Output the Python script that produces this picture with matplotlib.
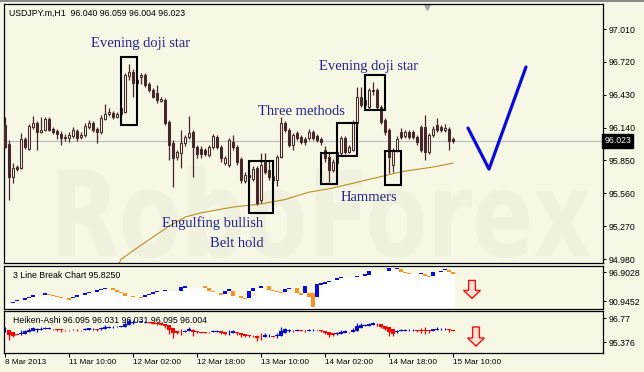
import numpy as np
import matplotlib
matplotlib.use('Agg')
import matplotlib.pyplot as plt
from matplotlib.patches import Rectangle, Polygon, PathPatch
from matplotlib.textpath import TextPath
from matplotlib.font_manager import FontProperties
from matplotlib.transforms import Affine2D, blended_transform_factory

plt.rcParams['font.family'] = ['Liberation Sans', 'DejaVu Sans']

# USDJPY.m H1, one candle per hour from 8 Mar 2013 18:00 to 15 Mar 10:00
opens = [96.163, 95.995, 95.704, 95.792, 95.783, 96.039, 95.951, 96.145, 96.180, 96.101,
         96.119, 96.216, 96.127, 96.110, 96.083, 96.057, 96.048, 96.066, 96.110, 96.057,
         96.074, 96.145, 96.180, 96.127, 96.101, 96.216, 96.260, 96.269, 96.233, 96.313,
         96.277, 96.595, 96.631, 96.533, 96.586, 96.604, 96.525, 96.472, 96.445, 96.375,
         96.383, 96.189, 96.004, 95.880, 95.916, 96.004, 96.057, 96.101, 95.969, 95.951,
         95.942, 95.898, 95.969, 96.057, 95.969, 95.827, 95.810, 96.013, 95.969, 95.863,
         95.669, 95.722, 95.686, 95.783, 95.501, 95.836, 95.766, 95.677, 95.677, 95.880,
         96.180, 96.119, 95.986, 96.092, 96.057, 96.039, 96.048, 96.101, 96.066, 96.039,
         95.942, 95.880, 95.766, 95.827, 95.916, 96.048, 95.925, 95.942, 96.180, 96.410,
         96.339, 96.322, 96.472, 96.472, 96.322, 96.207, 96.119, 95.810, 95.942, 96.101,
         96.066, 96.101, 96.101, 96.057, 96.145, 96.145, 95.925, 96.074, 96.163, 96.145,
         96.119, 96.127, 96.040]
highs = [96.233, 96.030, 95.827, 95.810, 96.092, 96.057, 96.172, 96.242, 96.198, 96.233,
         96.233, 96.233, 96.145, 96.127, 96.110, 96.083, 96.101, 96.145, 96.127, 96.101,
         96.180, 96.207, 96.198, 96.145, 96.251, 96.348, 96.313, 96.286, 96.277, 96.330,
         96.622, 96.701, 96.657, 96.578, 96.622, 96.622, 96.542, 96.489, 96.516, 96.410,
         96.401, 96.207, 96.030, 95.942, 96.119, 96.074, 96.242, 96.119, 95.986, 95.977,
         95.960, 95.986, 96.083, 96.074, 95.986, 95.889, 96.048, 96.074, 95.986, 95.880,
         95.748, 95.766, 95.801, 95.801, 95.916, 95.916, 95.854, 95.730, 95.898, 96.233,
         96.198, 96.136, 96.092, 96.110, 96.074, 96.057, 96.127, 96.119, 96.083, 96.057,
         95.977, 95.916, 95.863, 95.942, 96.066, 96.066, 95.986, 96.207, 96.498, 96.498,
         96.428, 96.489, 96.542, 96.489, 96.339, 96.225, 96.136, 95.960, 96.066, 96.136,
         96.119, 96.119, 96.119, 96.074, 96.163, 96.251, 96.092, 96.154, 96.225, 96.163,
         96.172, 96.145, 96.059]
lows = [95.960, 95.501, 95.651, 95.757, 95.775, 95.951, 95.942, 96.127, 95.942, 96.092,
        96.110, 96.110, 96.083, 96.039, 95.986, 96.022, 96.013, 96.048, 96.022, 96.039,
        96.057, 96.127, 96.101, 96.004, 96.083, 96.207, 96.242, 96.216, 96.225, 96.242,
        96.269, 96.560, 96.410, 96.516, 96.525, 96.498, 96.454, 96.401, 96.357, 96.366,
        96.163, 95.854, 95.616, 95.854, 95.783, 95.977, 96.039, 95.704, 95.872, 95.872,
        95.889, 95.880, 95.951, 95.951, 95.836, 95.810, 95.792, 95.942, 95.810, 95.651,
        95.651, 95.677, 95.669, 95.456, 95.474, 95.730, 95.677, 95.660, 95.625, 95.872,
        96.101, 95.969, 95.942, 96.030, 95.995, 95.986, 96.030, 96.030, 96.013, 95.986,
        95.836, 95.660, 95.748, 95.810, 95.898, 95.907, 95.916, 95.933, 96.172, 96.322,
        96.322, 96.304, 96.428, 96.304, 96.172, 96.074, 95.739, 95.748, 95.925, 96.039,
        96.048, 96.039, 96.039, 95.986, 95.925, 95.854, 95.907, 96.057, 96.101, 96.101,
        96.101, 95.942, 96.004]
closes = [95.969, 95.704, 95.783, 95.775, 96.039, 95.969, 96.154, 96.180, 96.101, 96.119,
          96.216, 96.119, 96.101, 96.083, 96.048, 96.048, 96.074, 96.119, 96.048, 96.074,
          96.154, 96.180, 96.119, 96.101, 96.225, 96.260, 96.277, 96.233, 96.260, 96.260,
          96.604, 96.631, 96.533, 96.560, 96.604, 96.516, 96.472, 96.410, 96.383, 96.392,
          96.180, 95.986, 95.872, 95.925, 96.004, 96.057, 96.092, 95.969, 95.907, 95.907,
          95.907, 95.969, 96.066, 95.969, 95.872, 95.872, 96.030, 95.969, 95.836, 95.677,
          95.722, 95.704, 95.775, 95.474, 95.810, 95.748, 95.704, 95.713, 95.880, 96.180,
          96.119, 95.986, 96.074, 96.048, 96.013, 96.013, 96.101, 96.048, 96.030, 96.013,
          95.872, 95.766, 95.836, 95.925, 96.048, 95.925, 95.969, 96.180, 96.410, 96.339,
          96.383, 96.472, 96.463, 96.322, 96.189, 96.101, 95.880, 95.942, 96.039, 96.057,
          96.101, 96.057, 96.057, 96.013, 95.942, 95.925, 96.074, 96.127, 96.119, 96.119,
          96.136, 96.022, 96.023]

# moving average (read at some bars)
ma_bars = [28, 29, 33, 37, 41, 45, 49, 53, 57, 64, 70, 76, 82, 90, 99, 107, 112]
ma_vals = [94.90, 94.977, 95.077, 95.174, 95.27, 95.35, 95.388, 95.413, 95.439,
           95.466, 95.505, 95.57, 95.607, 95.674, 95.75, 95.792, 95.827]

# forecast drawn in blue
v_bars = [115.75, 121, 130.25]
v_prices = [96.136, 95.774, 96.675]

# 3 line break bricks
lb_bars = [2, 3, 5, 6, 7, 10, 11, 12, 13, 14, 16, 17, 18, 20, 21, 23, 24, 25, 27, 28,
           29, 30, 32, 34, 35, 36, 37, 38, 40, 44, 45, 50, 51, 52, 54, 55, 56, 57, 59, 60,
           61, 62, 64, 66, 67, 68, 69, 70, 71, 73, 74, 75, 76, 77, 78, 79, 80, 81, 83, 84,
           87, 88, 90, 91, 96, 98, 99, 100, 101, 104, 105, 106, 107, 109, 110, 111, 112]
lb_hi = [90.876, 91.219, 91.561, 91.904, 92.246, 92.589, 92.383, 92.178, 92.041, 91.835,
         91.561, 91.904, 92.246, 92.589, 92.931, 93.273, 93.479, 93.616, 93.616, 93.273,
         92.931, 92.589, 92.109, 91.904, 92.314, 92.451, 92.794, 93.137, 93.342, 93.821,
         94.163, 94.163, 93.616, 93.137, 92.657, 93.137, 93.479, 93.137, 91.972, 91.630,
         93.000, 93.616, 94.026, 94.026, 93.273, 93.000, 92.794, 93.479, 93.684, 93.616,
         92.657, 94.163, 92.657, 92.657, 94.506, 94.643, 94.848, 95.190, 95.670, 95.876,
         96.012, 96.218, 96.560, 97.108, 97.724, 97.793, 97.587, 97.040, 96.697, 96.697,
         96.560, 96.218, 96.903, 97.245, 97.587, 97.382, 97.040]
lb_lo = [90.671, 90.945, 91.287, 91.630, 91.904, 92.246, 92.178, 92.041, 91.835, 91.630,
         91.287, 91.561, 91.904, 92.246, 92.589, 92.931, 93.205, 93.410, 93.273, 92.931,
         92.589, 92.109, 91.767, 91.561, 91.767, 92.246, 92.451, 92.794, 93.000, 93.137,
         93.616, 93.616, 93.137, 92.794, 92.314, 92.451, 93.137, 92.109, 91.630, 91.424,
         91.630, 93.000, 93.684, 93.273, 93.000, 92.794, 92.589, 92.794, 93.479, 92.657,
         92.246, 92.589, 91.767, 89.712, 91.767, 94.369, 94.574, 94.848, 95.328, 95.670,
         95.876, 96.012, 96.218, 96.423, 97.245, 97.587, 97.040, 96.697, 96.560, 96.492,
         96.218, 96.012, 96.218, 97.040, 97.382, 97.040, 96.560]
lb_up = [1, 1, 1, 1, 1, 1, 0, 0, 0, 0, 0, 1, 1, 1, 1, 1, 1, 1, 0, 0,
         0, 0, 0, 0, 1, 1, 1, 1, 1, 1, 1, 0, 0, 0, 0, 1, 1, 0, 0, 0,
         1, 1, 1, 0, 0, 0, 0, 1, 1, 0, 0, 1, 0, 0, 1, 1, 1, 1, 1, 1,
         1, 1, 1, 1, 1, 1, 0, 0, 0, 1, 0, 0, 1, 1, 1, 0, 0]

tick_bars = [0, 16, 32, 48, 64, 80, 96, 112]
tick_labels = ['8 Mar 2013', '11 Mar 10:00', '12 Mar 02:00', '12 Mar 18:00',
               '13 Mar 10:00', '14 Mar 02:00', '14 Mar 18:00', '15 Mar 10:00']
price_ticks = [97.010, 96.720, 96.430, 96.140, 95.850, 95.560, 95.270, 94.980]

bg = '#F7F7E6'
dark = '#472828'
navy = '#24248F'
lblue = '#0A0AD8'
orange = '#F7931E'
fs = 6.3

fig = plt.figure(figsize=(6.44, 3.72), dpi=100)
fig.patch.set_facecolor(bg)
W, H = 644.0, 372.0
ax = fig.add_axes([4 / W, 1 - 263 / H, 599 / W, 259 / H])
ax_lb = fig.add_axes([4 / W, 1 - 309 / H, 599 / W, 43 / H])
ax_ha = fig.add_axes([4 / W, 1 - 352.5 / H, 599 / W, 41.5 / H])

for a in (ax, ax_lb, ax_ha):
    a.set_facecolor(bg)
    a.set_xlim(-0.25, 149.5)
    for s in a.spines.values():
        s.set_color('black')
        s.set_linewidth(0.9)
    a.yaxis.tick_right()
    a.tick_params(axis='y', direction='out', length=2.2, width=0.7, pad=1.5,
                  labelsize=fs, colors='black')
    a.tick_params(axis='x', bottom=False, labelbottom=False)

# ---- main candle chart
ax.set_ylim(94.945, 97.231)
ax.set_yticks(price_ticks)
ax.set_yticklabels(['%.3f' % p for p in price_ticks])

# watermark
tp = TextPath((0, 0), 'RoboForex', size=1, prop=FontProperties(family='DejaVu Sans', weight='bold'))
bb = tp.get_extents()
x0, x1 = 58 / W, 590 / W
y0, y1 = 1 - 258 / H, 1 - 166 / H
tr = Affine2D().translate(-bb.x0, -bb.y0).scale((x1 - x0) / bb.width, (y1 - y0) / bb.height) \
    .translate(x0, y0) + fig.transFigure
ax.add_patch(PathPatch(tp, transform=tr, fc='#F0F0DF', ec='none', zorder=0.5))

o, h, l, c = map(np.array, (opens, highs, lows, closes))
x = np.arange(len(c))
up = c >= o
ax.axhline(closes[-1], color='#BDBDBD', lw=0.8, zorder=1)
ax.plot(ma_bars, ma_vals, color='#BE8E1E', lw=0.8, zorder=2)
ax.vlines(x, l, h, color=dark, lw=0.9, zorder=3)
ax.bar(x[up], c[up] - o[up], bottom=o[up], width=0.62, fc=bg, ec=dark, lw=0.75, zorder=4)
ax.bar(x[~up], o[~up] - c[~up], bottom=c[~up], width=0.62, fc=dark, ec=dark, lw=0.75, zorder=4)

ax.plot(v_bars, v_prices, color=lblue, lw=2.3, solid_capstyle='round', zorder=5)

# pattern boxes: (first bar edge, last bar edge, low, high)
boxes = [(29, 33, 96.163, 96.763), (61, 67, 95.386, 95.845), (79, 83, 95.642, 95.916),
         (83, 88, 95.889, 96.180), (90, 95, 96.295, 96.604), (95, 99, 95.633, 95.933)]
for b0, b1, lo, hi in boxes:
    ax.add_patch(Rectangle((b0, lo), b1 - b0, hi - lo, fill=False, ec='black', lw=1.5, zorder=6))

notes = [('Evening doji star', 34, 96.886), ('Evening doji star', 91, 96.683),
         ('Three methods', 74, 96.286), ('Engulfing bullish', 52, 95.298),
         ('Belt hold', 58, 95.121), ('Hammers', 91, 95.527)]
for txt, nx, ny in notes:
    ax.text(nx, ny, txt, ha='center', va='center', fontsize=10.5, color=navy,
            family='Liberation Serif', zorder=7)

ax.text(1.002, closes[-1], '%.3f' % closes[-1], color='white', fontsize=fs, va='center', ha='left',
        transform=blended_transform_factory(ax.transAxes, ax.transData),
        bbox=dict(fc='black', ec='black', boxstyle='square,pad=0.25'), zorder=8)
ax.plot([(427 - 4) / 599], [0.99], marker='v', color='#A8A8A8', ms=5,
        transform=ax.transAxes, clip_on=False)
fig.text(9 / W, 1 - 13 / H, 'USDJPY.m,H1  96.040 96.059 96.004 96.023', fontsize=fs, va='center')

# ---- 3 line break panel
ax_lb.set_ylim(89.37, 98.238)
ax_lb.set_yticks([96.9028, 90.9452])
ax_lb.set_yticklabels(['96.9028', '90.9452'])
fill_x = [-0.5] + [b + 0.5 for b in lb_bars]
fill_y = [lb_lo[0]] + lb_lo
ax_lb.fill_between(fill_x, fill_y, 89.37, step='pre', color='white', lw=0, zorder=1)
lb_b = np.array(lb_bars)
lb_h = np.array(lb_hi)
lb_l = np.array(lb_lo)
lb_u = np.array(lb_up) == 1
ax_lb.bar(lb_b[lb_u], lb_h[lb_u] - lb_l[lb_u], bottom=lb_l[lb_u], width=0.9, color=lblue, zorder=2)
ax_lb.bar(lb_b[~lb_u], lb_h[~lb_u] - lb_l[~lb_u], bottom=lb_l[~lb_u], width=0.9, color=orange, zorder=2)
ax_lb.text(9 / 599, 0.77, '3 Line Break Chart 95.8250', transform=ax_lb.transAxes,
           fontsize=fs, va='center', zorder=3)


def down_arrow(a, xc, top, neck, tip, shaft, head):
    pts = [(xc - shaft, top), (xc + shaft, top), (xc + shaft, neck), (xc + head, neck),
           (xc, tip), (xc - head, neck), (xc - shaft, neck)]
    a.add_patch(Polygon(pts, closed=True, fc='#FFE2D2', ec='#F01010', lw=1.0, zorder=5))


down_arrow(ax_lb, 116.75, 95.26, 93.2, 91.56, 0.85, 2.1)

# ---- Heiken-Ashi panel
ax_ha.set_ylim(94.766, 97.177)
ax_ha.set_yticks([96.77, 95.376])
ax_ha.set_yticklabels(['96.77', '95.376'])
ha_c = (o + h + l + c) / 4
ha_o = np.empty_like(ha_c)
ha_o[0] = (o[0] + c[0]) / 2
for i in range(1, len(ha_c)):
    ha_o[i] = (ha_o[i - 1] + ha_c[i - 1]) / 2
ha_h = np.maximum(h, np.maximum(ha_o, ha_c))
ha_l = np.minimum(l, np.minimum(ha_o, ha_c))
bull = ha_c >= ha_o
cols = np.where(bull, '#0A0ACC', '#FF0000')
ax_ha.text(9 / 599, 0.78, 'Heiken-Ashi 96.095 96.031 96.031 96.095 96.004', transform=ax_ha.transAxes,
           fontsize=fs, va='center', zorder=1)
ax_ha.vlines(x, ha_l, ha_h, colors=cols, lw=0.9, zorder=2)
ax_ha.bar(x, np.abs(ha_c - ha_o), bottom=np.minimum(ha_o, ha_c), width=0.95, color=cols, zorder=3)
down_arrow(ax_ha, 117.75, 96.25, 95.61, 95.14, 0.85, 2.1)

ax_ha.tick_params(axis='x', bottom=True, labelbottom=True, direction='out', length=3,
                  width=0.7, pad=1.5, labelsize=5.9)
ax_ha.set_xticks(tick_bars)
ax_ha.set_xticklabels(tick_labels, ha='left')

fig.patches.append(Rectangle((0, 1 - 2 / H), 1, 2 / H, transform=fig.transFigure,
                             fc='#8A8A8A', ec='none'))

fig.savefig('out.png', dpi=100, facecolor=bg)
